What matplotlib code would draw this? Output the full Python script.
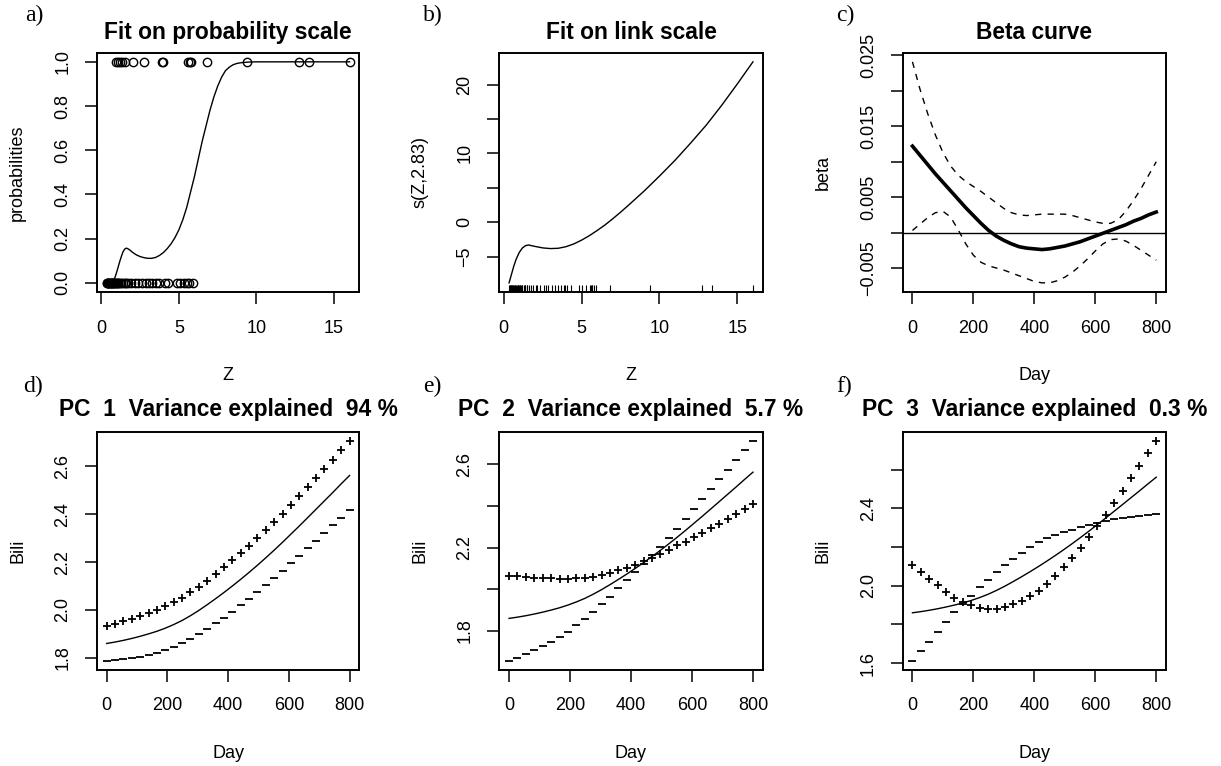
import numpy as np
import matplotlib.pyplot as plt

plt.rcParams['font.family'] = ['Liberation Sans', 'DejaVu Sans']

W, H = 1221, 766

# a), b): binary outcome against Z
z_ones = [0.92, 1.05, 1.2, 1.35, 1.5, 2.05, 2.75, 3.9, 3.95, 5.6, 5.7, 5.8,
          6.8, 9.37, 12.75, 13.4, 16.0]
z_zeros = [0.35, 0.38, 0.42, 0.45, 0.48, 0.52, 0.55, 0.6, 0.63, 0.67, 0.7,
           0.75, 0.8, 0.85, 0.9, 0.95, 1.0, 1.05, 1.1, 1.2, 1.3, 1.4, 1.5,
           1.6, 1.75, 1.9, 2.15, 2.35, 2.6, 2.85, 3.1, 3.3, 3.5, 3.7, 4.1,
           4.3, 4.85, 5.05, 5.3, 5.55, 5.65, 5.9]
prob_z = [0.35, 0.6, 0.8, 0.9, 1.0, 1.1, 1.2, 1.3, 1.4, 1.5, 1.6, 1.7, 1.85,
          2.0, 2.25, 2.5, 2.75, 3.0, 3.25, 3.5, 3.75, 4.0, 4.25, 4.5, 4.75,
          5.0, 5.25, 5.5, 5.75, 6.0, 6.25, 6.5, 6.75, 7.0, 7.25, 7.5, 7.75,
          8.0, 8.25, 8.5, 8.75, 9.0, 9.5, 10.0, 11.0, 12.0, 13.0, 14.0, 15.0,
          16.0]
prob_fit = [0.0, 0.002, 0.012, 0.028, 0.05, 0.075, 0.099, 0.121, 0.140,
            0.152, 0.157, 0.155, 0.148, 0.139, 0.127, 0.119, 0.114, 0.111,
            0.111, 0.115, 0.124, 0.137, 0.155, 0.177, 0.205, 0.24, 0.285,
            0.34, 0.41, 0.48, 0.56, 0.64, 0.71, 0.78, 0.84, 0.89, 0.93, 0.96,
            0.976, 0.987, 0.993, 0.996, 0.999, 1.0, 1.0, 1.0, 1.0, 1.0, 1.0,
            1.0]
link_z = [0.35, 0.5, 0.65, 0.8, 1.0, 1.2, 1.4, 1.6, 1.8, 2.0, 2.5, 3.0, 3.5,
          4.0, 4.5, 5.0, 5.5, 6.0, 6.5, 7.0, 7.5, 8.0, 9.0, 10.0, 11.0, 12.0,
          13.0, 14.0, 15.0, 16.0]
link_fit = [-8.8, -7.6, -6.4, -5.4, -4.4, -3.75, -3.4, -3.3, -3.4, -3.5,
            -3.72, -3.82, -3.78, -3.55, -3.15, -2.6, -1.95, -1.2, -0.4, 0.5,
            1.45, 2.45, 4.5, 6.7, 9.0, 11.5, 14.1, 17.0, 20.1, 23.3]

# c) beta curve with bands
beta_day = [0, 25, 50, 75, 100, 125, 150, 175, 200, 225, 250, 275, 300, 325,
            350, 375, 400, 425, 450, 475, 500, 525, 550, 575, 600, 625, 650,
            675, 700, 725, 750, 775, 800]
beta_fit = [0.0122, 0.0109, 0.0096, 0.0083, 0.0071, 0.0059, 0.0047, 0.0035,
            0.0024, 0.0013, 0.0003, -0.0005, -0.0011, -0.0016, -0.0020,
            -0.0022, -0.0023, -0.0024, -0.0023, -0.0021, -0.0019, -0.0016,
            -0.0013, -0.0009, -0.0005, -0.0001, 0.0003, 0.0007, 0.0011,
            0.0016, 0.0020, 0.0025, 0.0029]
beta_upper = [0.0241, 0.0202, 0.0168, 0.0138, 0.0113, 0.0094, 0.0081, 0.0072,
              0.0065, 0.0058, 0.0050, 0.0042, 0.0034, 0.0028, 0.0025, 0.0024,
              0.0025, 0.0026, 0.0026, 0.0026, 0.0026, 0.0024, 0.0021, 0.0018,
              0.0015, 0.0013, 0.0013, 0.0018, 0.0030, 0.0045, 0.0062, 0.0081,
              0.0100]
beta_lower = [0.0003, 0.0012, 0.0021, 0.0028, 0.0030, 0.0022, 0.0004,
              -0.0016, -0.0032, -0.0042, -0.0047, -0.0050, -0.0053, -0.0057,
              -0.0061, -0.0065, -0.0069, -0.0071, -0.0071, -0.0068, -0.0063,
              -0.0056, -0.0047, -0.0037, -0.0026, -0.0016, -0.0010, -0.0009,
              -0.0012, -0.0018, -0.0025, -0.0032, -0.0039]

# d)-f) principal components of Bili
pc_day = [0, 27.6, 55.2, 82.8, 110.3, 137.9, 165.5, 193.1, 220.7, 248.3,
          275.9, 303.4, 331.0, 358.6, 386.2, 413.8, 441.4, 469.0, 496.6,
          524.1, 551.7, 579.3, 606.9, 634.5, 662.1, 689.7, 717.2, 744.8,
          772.4, 800]
bili_mean = [1.860, 1.866, 1.873, 1.881, 1.890, 1.900, 1.911, 1.924, 1.939,
             1.956, 1.976, 1.998, 2.022, 2.047, 2.073, 2.100, 2.128, 2.157,
             2.187, 2.218, 2.250, 2.283, 2.317, 2.351, 2.386, 2.421, 2.456,
             2.491, 2.527, 2.562]
pc1_shift = [0.072, 0.076, 0.079, 0.082, 0.085, 0.087, 0.090, 0.092, 0.094,
             0.096, 0.098, 0.099, 0.101, 0.103, 0.105, 0.107, 0.109, 0.111,
             0.113, 0.115, 0.117, 0.120, 0.122, 0.125, 0.128, 0.131, 0.134,
             0.137, 0.141, 0.146]
pc2_shift = [0.203, 0.197, 0.186, 0.174, 0.163, 0.152, 0.140, 0.127, 0.113,
             0.099, 0.085, 0.071, 0.057, 0.043, 0.029, 0.017, 0.006, -0.005,
             -0.016, -0.028, -0.040, -0.054, -0.068, -0.081, -0.094, -0.106,
             -0.118, -0.130, -0.141, -0.152]
pc3_shift = [0.248, 0.203, 0.163, 0.122, 0.079, 0.038, 0.005, -0.025,
             -0.053, -0.075, -0.094, -0.109, -0.118, -0.124, -0.127, -0.127,
             -0.121, -0.108, -0.091, -0.073, -0.054, -0.033, -0.010, 0.015,
             0.042, 0.070, 0.100, 0.130, 0.159, 0.190]
pc_var = ['94', '5.7', '0.3']

MINUS = '\u2212'


def r_lim(values):
    lo, hi = min(values), max(values)
    d = (hi - lo) * 0.04
    return lo - d, hi + d


def make_ax(x0, y0, x1, y1):
    return fig.add_axes([x0 / W, 1 - y1 / H, (x1 - x0) / W, (y1 - y0) / H])


def style(ax, xticks, yticks, ylabels, xlabel, ylabel, title, tpad):
    for s in ax.spines.values():
        s.set_linewidth(1.4)
    ax.set_xticks(xticks)
    ax.set_xticklabels([str(t) for t in xticks])
    ax.set_yticks(yticks)
    ax.set_yticklabels(ylabels, rotation=90, va='center')
    ax.tick_params(direction='out', length=8.6, width=1.1, labelsize=13)
    ax.tick_params(axis='x', pad=11.5)
    ax.tick_params(axis='y', pad=10)
    ax.set_xlabel(xlabel, fontsize=13)
    ax.set_ylabel(ylabel, fontsize=13)
    w = ax.get_position().width * W
    h = ax.get_position().height * H
    ax.xaxis.set_label_coords(0.5, -75 / h)
    ax.yaxis.set_label_coords(-71 / w, 0.5)
    ax.set_title(title, fontsize=16.4, fontweight='bold', pad=tpad)


fig = plt.figure(figsize=(W / 100, H / 100), dpi=100)

cols = [(97, 359.3), (499.3, 762.7), (902.7, 1166)]
rows = [(53, 291.7), (431.7, 669.5)]
line_kw = dict(color='black', lw=1.0)

# a) probability scale
ax = make_ax(cols[0][0], rows[0][0], cols[0][1], rows[0][1])
ax.plot(prob_z, prob_fit, **line_kw)
ax.plot(z_ones, np.ones(len(z_ones)), 'o', mfc='none', mec='black', ms=6, mew=1.0)
ax.plot(z_zeros, np.zeros(len(z_zeros)), 'o', mfc='none', mec='black', ms=6, mew=1.0)
ax.set_xlim(r_lim(z_ones + z_zeros))
ax.set_ylim(-0.04, 1.04)
style(ax, [0, 5, 10, 15], [0, 0.2, 0.4, 0.6, 0.8, 1.0],
      ['0.0', '0.2', '0.4', '0.6', '0.8', '1.0'], 'Z', 'probabilities',
      'Fit on probability scale', 10)

# b) link scale with rug
ax = make_ax(cols[1][0], rows[0][0], cols[1][1], rows[0][1])
ax.plot(link_z, link_fit, **line_kw)
ax.vlines(z_ones + z_zeros, 0, 0.03, transform=ax.get_xaxis_transform(),
          color='black', lw=0.8)
ax.set_xlim(r_lim(link_z))
ax.set_ylim(r_lim(link_fit))
style(ax, [0, 5, 10, 15], [-5, 0, 5, 10, 15, 20],
      [MINUS + '5', '0', '', '10', '', '20'], 'Z', 's(Z,2.83)',
      'Fit on link scale', 10)

# c) beta curve
ax = make_ax(cols[2][0], rows[0][0], cols[2][1], rows[0][1])
ax.plot(beta_day, beta_fit, color='black', lw=2.6)
ax.plot(beta_day, beta_upper, color='black', lw=1.0, dashes=(4.5, 4.5))
ax.plot(beta_day, beta_lower, color='black', lw=1.0, dashes=(4.5, 4.5))
ax.axhline(0, color='black', lw=1.0)
ax.set_xlim(r_lim(beta_day))
ax.set_ylim(r_lim(beta_upper + beta_lower))
style(ax, [0, 200, 400, 600, 800],
      [-0.005, 0, 0.005, 0.01, 0.015, 0.02, 0.025],
      [MINUS + '0.005', '', '0.005', '', '0.015', '', '0.025'], 'Day', 'beta',
      'Beta curve', 10)

# d)-f) PCA plots
shifts = [pc1_shift, pc2_shift, pc3_shift]
yt = [([1.8, 2.0, 2.2, 2.4, 2.6], ['1.8', '2.0', '2.2', '2.4', '2.6']),
      ([1.8, 2.0, 2.2, 2.4, 2.6], ['1.8', '', '2.2', '', '2.6']),
      ([1.6, 1.8, 2.0, 2.2, 2.4, 2.6], ['1.6', '', '2.0', '', '2.4', ''])]
for i in range(3):
    ax = make_ax(cols[i][0], rows[1][0], cols[i][1], rows[1][1])
    mean = np.array(bili_mean)
    sh = np.array(shifts[i])
    ax.plot(pc_day, mean, **line_kw)
    ax.plot(pc_day, mean + sh, '+', color='black', ms=6, mew=1.3)
    ax.plot(pc_day, mean - sh, '_', color='black', ms=5.5, mew=1.3)
    ax.set_xlim(r_lim(pc_day))
    ax.set_ylim(r_lim(list(mean + sh) + list(mean - sh)))
    style(ax, [0, 200, 400, 600, 800], yt[i][0], yt[i][1], 'Day', 'Bili',
          'PC  %d  Variance explained  %s %%' % (i + 1, pc_var[i]), 11)

# panel letters
for lab, x, y in [('a)', 25, 5), ('b)', 423, 5), ('c)', 836, 5),
                  ('d)', 23, 376), ('e)', 423, 376), ('f)', 836, 376)]:
    fig.text(x / W, 1 - y / H, lab, family='Liberation Serif', fontsize=17,
             ha='left', va='top')

fig.savefig('out.png', dpi=100)
